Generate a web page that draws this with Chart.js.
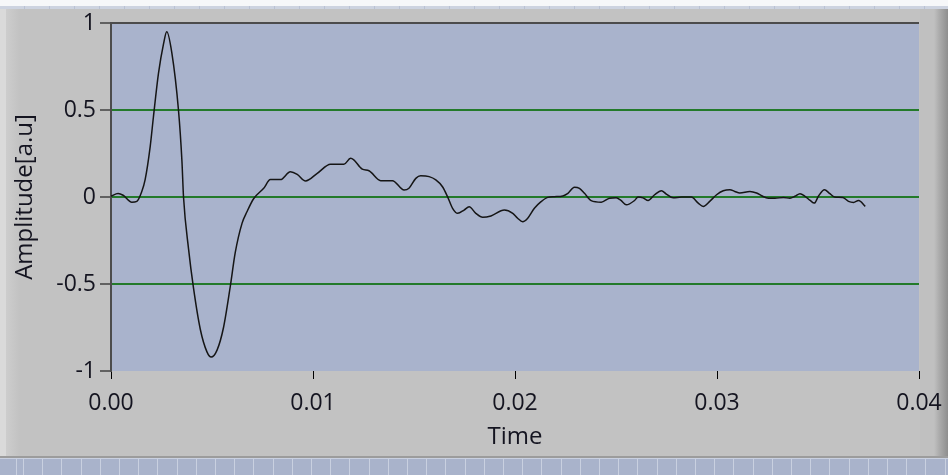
<!DOCTYPE html>
<html>
<head>
<meta charset="utf-8">
<script src="https://cdn.jsdelivr.net/npm/chart.js@4.4.1/dist/chart.umd.min.js"></script>
<style>
  html, body { margin:0; padding:0; }
  body { width:948px; height:475px; overflow:hidden; position:relative; background:#c2c2c2; }
  .topstrip { position:absolute; left:0; top:0; width:948px; height:6px; background:#f6f7f9; }
  .topline { position:absolute; left:0; top:6px; width:948px; height:3px;
    background:repeating-linear-gradient(90deg, #cdd3e0 0 24px, #b9c1d4 24px 25px); }
  .leftedge { position:absolute; left:0; top:9px; width:20px; height:448px;
    background:linear-gradient(90deg, #dadada 0 6px, #cdcdcd 6px, #c2c2c2 20px); }
  .rightedge { position:absolute; left:920px; top:9px; width:28px; height:448px;
    background:linear-gradient(90deg, #c0c0c0 0 14px, #a9a9a9 20px, #8e8e8e 28px); }
  .bottomline { position:absolute; left:0; top:456px; width:948px; height:2px; background:#9c9c9c; }
  .tiles { position:absolute; left:0; top:458px; width:948px; height:17px;
    background:
      repeating-linear-gradient(90deg, #c9d0e0 0 1px, #a9b3cb 1px 19.2px);
    background-position:23px 0; border-top:1px solid #c9d0e0; }
  canvas { position:absolute; left:0; top:0; }
</style>
</head>
<body>
<div class="topstrip"></div>
<div class="topline"></div>
<div class="leftedge"></div>
<div class="rightedge"></div>
<div class="bottomline"></div>
<div class="tiles"></div>
<canvas id="plot" width="948" height="475"></canvas>
<script>
// time in seconds, amplitude in a.u.
const timeS = [
  0, 0.00035, 0.0006, 0.00103, 0.00128, 0.00152, 0.00169, 0.00194, 0.0021, 0.00235,
  0.0026, 0.00276, 0.00301, 0.00334, 0.00351, 0.00359, 0.00384, 0.00408, 0.00442, 0.00475,
  0.00496, 0.00525, 0.00557, 0.00591, 0.00615, 0.00649, 0.00673, 0.00706, 0.00756, 0.00789,
  0.00839, 0.00888, 0.00922, 0.00963, 0.01021, 0.01087, 0.01153, 0.01186, 0.01202, 0.01244,
  0.01277, 0.01335, 0.01393, 0.01451, 0.01475, 0.01509, 0.01533, 0.01575, 0.01608, 0.01641,
  0.01666, 0.01691, 0.01716, 0.01748, 0.01773, 0.01806, 0.0184, 0.01881, 0.01947, 0.01989,
  0.02013, 0.02038, 0.02063, 0.02096, 0.02129, 0.02162, 0.02195, 0.02237, 0.02262, 0.02294,
  0.02319, 0.02344, 0.02377, 0.02427, 0.02468, 0.02501, 0.02523, 0.02551, 0.02592, 0.02609,
  0.02634, 0.02659, 0.02691, 0.02725, 0.02749, 0.02783, 0.02824, 0.02873, 0.02907, 0.02932,
  0.02964, 0.02998, 0.03031, 0.03064, 0.03088, 0.03113, 0.03163, 0.03196, 0.03221, 0.03254,
  0.03287, 0.03329, 0.03361, 0.03386, 0.03411, 0.03436, 0.03461, 0.03482, 0.03502, 0.03532,
  0.03557, 0.03582, 0.03623, 0.03651, 0.03676, 0.03701, 0.03734
];
const amplitude = [
  0.005, 0.02, 0.01, -0.03, -0.025, 0.03, 0.10, 0.29, 0.46, 0.71,
  0.88, 0.95, 0.83, 0.50, 0.21, 0.0, -0.30, -0.52, -0.76, -0.89,
  -0.92, -0.88, -0.75, -0.51, -0.32, -0.15, -0.085, -0.01, 0.05, 0.10,
  0.10, 0.145, 0.13, 0.092, 0.136, 0.188, 0.188, 0.222, 0.213, 0.16,
  0.151, 0.094, 0.094, 0.04, 0.05, 0.107, 0.122, 0.117, 0.098, 0.059,
  0.002, -0.065, -0.094, -0.075, -0.056, -0.094, -0.117, -0.109, -0.075, -0.094,
  -0.122, -0.142, -0.122, -0.065, -0.027, -0.002, 0.002, 0.006, 0.021, 0.056,
  0.05, 0.021, -0.021, -0.03, -0.007, -0.005, -0.018, -0.045, -0.02, 0,
  -0.005, -0.02, 0.013, 0.036, 0.017, -0.005, 0, 0, -0.035, -0.054,
  -0.025, 0.013, 0.036, 0.042, 0.032, 0.023, 0.032, 0.023, 0.007, -0.007,
  -0.007, -0.003, -0.007, 0.004, 0.019, 0.004, -0.02, -0.035, 0.004, 0.042,
  0.021, 0, -0.003, -0.025, -0.031, -0.02, -0.054
];

const xTicks = [0, 0.01, 0.02, 0.03, 0.04];
const xTickLabels = ['0.00', '0.01', '0.02', '0.03', '0.04'];
const yTicks = [-1, -0.5, 0, 0.5, 1];
const yTickLabels = ['-1', '-0.5', '0', '0.5', '1'];

const plotBg = {
  id:'plotBg',
  beforeDraw(c){
    const a = c.chartArea, ctx = c.ctx;
    ctx.save();
    ctx.fillStyle = '#a9b3cc';
    ctx.fillRect(a.left, a.top, a.right - a.left, a.bottom - a.top);
    ctx.restore();
  }
};

const tickFont = { family:'"Open Sans"', size:23 };
const titleFont = { family:'"Open Sans"', size:24 };

new Chart(document.getElementById('plot'), {
  type:'line',
  data:{
    datasets:[{
      data: timeS.map((t, i) => ({ x:t, y:amplitude[i] })),
      borderColor:'#151515',
      borderWidth:1.5,
      pointRadius:0,
      cubicInterpolationMode:'monotone',
      fill:false
    }]
  },
  options:{
    responsive:false,
    animation:false,
    layout:{ padding:{ left:0, right:29, top:23, bottom:0 } },
    plugins:{ legend:{ display:false }, tooltip:{ enabled:false } },
    scales:{
      x:{
        type:'linear', min:0, max:0.04,
        afterBuildTicks: s => { s.ticks = xTicks.map(v => ({ value:v })); },
        afterFit: s => { s.height = 104; s.paddingLeft = 0; s.paddingRight = 0; },
        ticks:{ color:'#141420', font:tickFont, padding:11, maxRotation:0,
                callback:(v, i) => xTickLabels[i] },
        grid:{ drawOnChartArea:false, drawTicks:true, tickLength:8, tickColor:'#000', tickWidth:1 },
        border:{ display:false },
        title:{ display:true, text:'Time', color:'#141420', font:titleFont, padding:{ top:0, bottom:23 } }
      },
      y:{
        min:-1, max:1,
        afterBuildTicks: s => { s.ticks = yTicks.map(v => ({ value:v })); },
        afterFit: s => { s.width = 111; },
        ticks:{ color:'#141420', font:tickFont, padding:4,
                callback:(v, i) => yTickLabels[i] },
        grid:{
          color: ctx => ctx.tick && ctx.tick.value === 1 ? '#4c4c4c'
                      : (ctx.tick && ctx.tick.value === -1 ? 'rgba(0,0,0,0)' : '#237a2a'),
          lineWidth: 2,
          tickColor:'#000', tickWidth:1, tickLength:11
        },
        border:{ display:true, color:'#4c4c4c', width:2 },
        title:{ display:true, text:'Amplitude[a.u]', color:'#141420', font:titleFont, padding:{ top:11, bottom:0 } }
      }
    }
  },
  plugins:[plotBg]
});
</script>
</body>
</html>
